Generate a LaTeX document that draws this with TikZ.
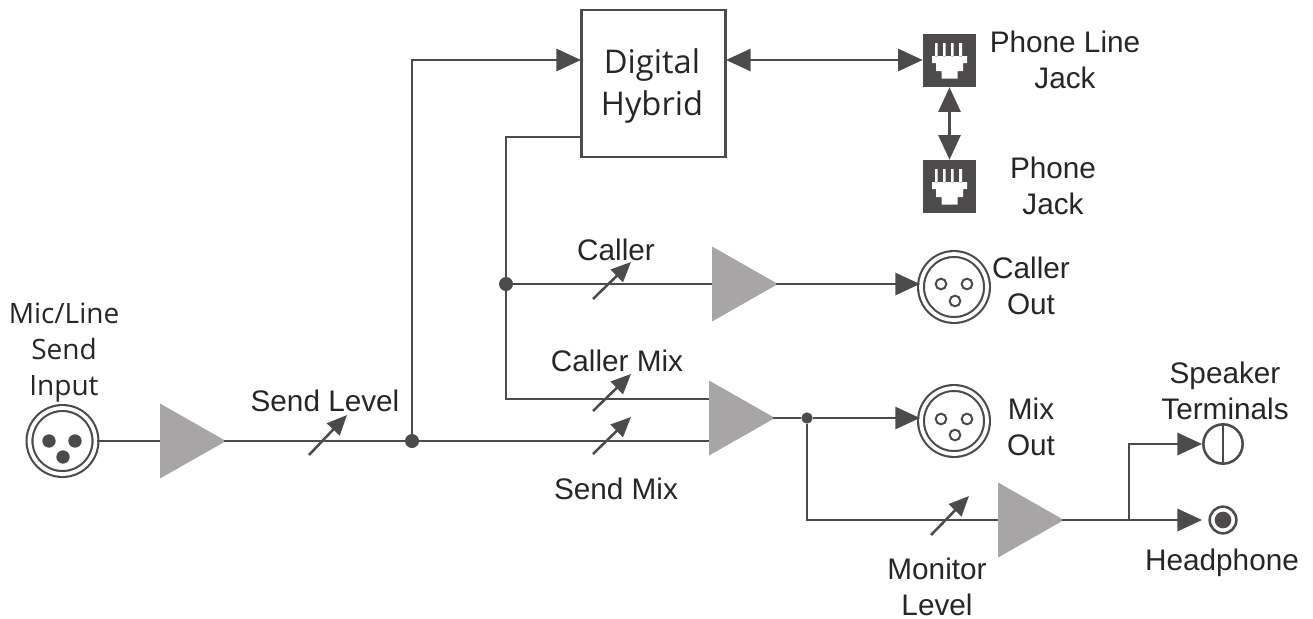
\documentclass[tikz,border=0pt]{standalone}
\usepackage{fontspec}
\setmainfont{Liberation Sans}
\newfontfamily\myriad{Open Sans}
\usetikzlibrary{arrows.meta,shapes.geometric}
\definecolor{wire}{HTML}{4D4A4B}
\definecolor{ampgrey}{HTML}{A7A5A6}
\tikzset{
  sig/.style={draw=wire,line width=2.2pt},
  tosig/.style={sig,-{Triangle[length=18.5pt,width=16.5pt]}},
  bothsig/.style={sig,{Triangle[length=18.5pt,width=16.5pt]}-{Triangle[length=18.5pt,width=16.5pt]}},
  levelarrow/.style={draw=wire,line width=1.9pt,-{Triangle[length=15pt,width=13pt]}},
  junction/.style={circle,fill=wire,inner sep=0pt,minimum size=10.5pt},
  amp/.style={isosceles triangle,isosceles triangle stretches,shape border rotate=0,fill=ampgrey,
    inner sep=0pt,outer sep=0pt,minimum height=49.5pt,minimum width=56.25pt,anchor=lower side},
  tag/.style={text=black!85,align=center,inner sep=0pt,font=\fontsize{22.3}{27}\selectfont},
  xlr/.style={circle,draw=wire,line width=1.6pt,double=white,double distance=2.8pt,inner sep=0pt,minimum size=49.5pt},
  pinopen/.style={circle,draw=wire,line width=1.5pt,inner sep=0pt,minimum size=8pt},
  pinfull/.style={circle,fill=wire,inner sep=0pt,minimum size=10pt},
  jack/.style={rectangle,fill=wire,inner sep=0pt,minimum size=39.75pt,path picture={
    \fill[white,shift={(path picture bounding box.center)},x=0.75pt,y=-0.75pt]
      (-17.5,-4.5) -- (17.5,-4.5) -- (17.5,2.5) -- (13.5,2.5) -- (13.5,10.5) -- (8,10.5) -- (8,18)
      -- (-8,18) -- (-8,10.5) -- (-13.5,10.5) -- (-13.5,2.5) -- (-17.5,2.5) -- cycle
      (-14.5,-17.5) rectangle (-12,-4) (-6.5,-17.5) rectangle (-4,-4)
      (1.5,-17.5) rectangle (4,-4) (9.5,-17.5) rectangle (12.5,-4);
  }},
}
\begin{document}
\begin{tikzpicture}[x=0.75pt,y=-0.75pt]
  \useasboundingbox (0,0) rectangle (1313,618);

  % main blocks
  \node (hybrid) [draw=wire,line width=1.9pt,minimum width=108pt,minimum height=110pt,inner sep=0pt] at (653.5,83.5) {};
  \node (linejack) [jack] at (949.5,60.5) {};
  \node (phonejack) [jack] at (949.5,186.5) {};

  % connectors
  \node (sendin) [xlr] at (62.5,441) {};
  \node (callerout) [xlr] at (954,287) {};
  \node (mixout) [xlr] at (954,421) {};

  \node (sendamp) [amp] at (160,441) {};
  \node (calleramp) [amp] at (712,284) {};
  \node (mixamp) [amp] at (709,418) {};
  \node (monamp) [amp] at (998,520) {};

  \node (speaker) [circle,draw=wire,line width=1.9pt,inner sep=0pt,minimum size=29.5pt] at (1223,444) {};
  \node (phones) [circle,draw=wire,line width=1.9pt,inner sep=0pt,minimum size=20pt] at (1223,520) {};
  \node (phonesdot) [circle,fill=wire,inner sep=0pt,minimum size=12.5pt] at (phones) {};

  % pins
  \node (sa) [pinfull] at (49,441) {};
  \node (sb) [pinfull] at (75,441) {};
  \node (sc) [pinfull] at (63,457) {};
  \node (ca) [pinopen] at (941,284) {};
  \node (cb) [pinopen] at (967,284) {};
  \node (cc) [pinopen] at (955,301) {};
  \node (ma) [pinopen] at (941,419) {};
  \node (mb) [pinopen] at (967,419) {};
  \node (mc) [pinopen] at (955,435) {};

  % junctions
  \node (jsend) [junction] at (412,441) {};
  \node (jcaller) [junction] at (506,284) {};
  \node (jmix) [junction,minimum size=8.5pt] at (807,418) {};
  \coordinate (jspk) at (1129,520);
  \coordinate (hybridin) at (581,60);
  \coordinate (hybridout) at (581,137);
  \coordinate (hybridio) at (726,60);
  \coordinate (mixcaller) at (709,399);
  \coordinate (mixsend) at (709,441);

  % wires
  \draw [sig] (sendin) -- (sendamp.lower side);
  \draw [sig] ([xshift=-1.5pt]sendamp.apex) -- (jsend);
  \draw [sig] (jsend) -- (mixsend);
  \draw [tosig] (jsend) |- (hybridin);
  \draw [sig] (hybridout) -| (jcaller);
  \draw [sig] (jcaller) -- (calleramp.lower side);
  \draw [sig] (jcaller) |- (mixcaller);
  \draw [tosig] ([xshift=-1.5pt]calleramp.apex) -- (callerout.west |- calleramp.apex);
  \draw [sig] ([xshift=-1.5pt]mixamp.apex) -- (jmix);
  \draw [tosig] (jmix) -- (mixout.west |- jmix);
  \draw [sig] (jmix) |- (monamp.lower side);
  \draw [tosig] ([xshift=-1.5pt]monamp.apex) -- (speaker.west |- phones);
  \draw [tosig] (jspk) |- (speaker.west);
  \draw [bothsig] (hybridio) -- (linejack.west |- hybridio);
  \draw [bothsig] (linejack.south) -- (phonejack.north);
  \draw [draw=wire,line width=1.9pt] (speaker.north) -- (speaker.south);

  % level arrows
  \coordinate (sl0) at (309,455);   \coordinate (sl1) at (347,415);
  \coordinate (cl0) at (593,299);   \coordinate (cl1) at (631,262);
  \coordinate (cm0) at (593,411);   \coordinate (cm1) at (631,374);
  \coordinate (sm0) at (593,454);   \coordinate (sm1) at (631,417);
  \coordinate (ml0) at (931,535);   \coordinate (ml1) at (969,496);
  \draw [levelarrow] (sl0) -- (sl1);
  \draw [levelarrow] (cl0) -- (cl1);
  \draw [levelarrow] (cm0) -- (cm1);
  \draw [levelarrow] (sm0) -- (sm1);
  \draw [levelarrow] (ml0) -- (ml1);

  % labels
  \node (thybrid) [tag,font=\myriad\fontsize{24.5}{31.5}\selectfont] at (652,86.5) {Digital\\Hybrid};
  \node (tinput) [tag,font=\myriad\fontsize{21}{27}\selectfont] at (64,353) {Mic/Line\\Send\\Input};
  \node (tsend) [tag] at (325,401) {Send Level};
  \node (tcaller) [tag] at (616,250) {Caller};
  \node (tcmix) [tag] at (617,361) {Caller Mix};
  \node (tsmix) [tag] at (616,489) {Send Mix};
  \node (tline) [tag] at (1065,60) {Phone Line\\Jack};
  \node (tphone) [tag] at (1053,186) {Phone\\Jack};
  \node (tcout) [tag] at (1031,286) {Caller\\Out};
  \node (tmout) [tag] at (1031,427) {Mix\\Out};
  \node (tspk) [tag] at (1225,391) {Speaker\\Terminals};
  \node (thead) [tag] at (1222,563) {Headphone};
  \node (tmon) [tag] at (937,587) {Monitor\\Level};
\end{tikzpicture}
\end{document}
